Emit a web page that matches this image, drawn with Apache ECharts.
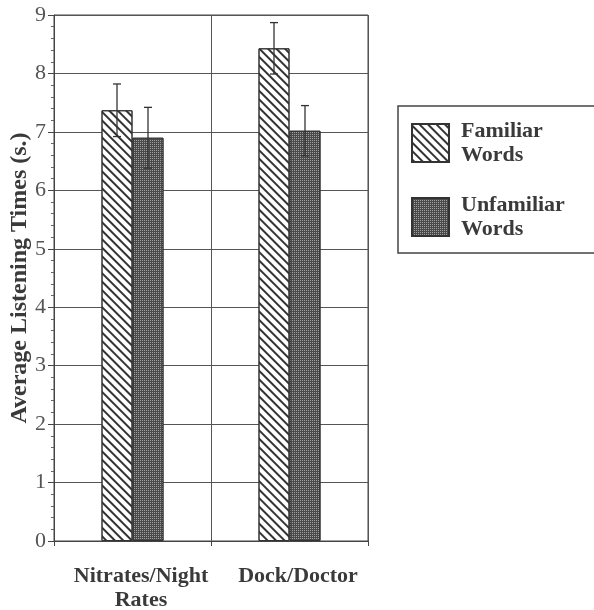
<!DOCTYPE html>
<html>
<head>
<meta charset="utf-8">
<script src="https://cdn.jsdelivr.net/npm/echarts@6/dist/echarts.min.js"></script>
<style>
html,body{margin:0;padding:0;background:#fff;}
#chart{width:594px;height:610px;}
</style>
</head>
<body>
<div id="chart"></div>
<script>
const categories = ['Nitrates/Night\nRates', 'Dock/Doctor'];
const seriesNames = ['Familiar\nWords', 'Unfamiliar\nWords'];
const familiarMeans = [7.37, 8.43];
const unfamiliarMeans = [6.90, 7.02];
const familiarErr = [0.45, 0.44];
const unfamiliarErr = [0.52, 0.43];
const yTicks = [0, 1, 2, 3, 4, 5, 6, 7, 8, 9];

const FONT = 'Liberation Serif';
const BAR_W = 31;

const chart = echarts.init(document.getElementById('chart'), null, {renderer: 'canvas'});

function errorSeries(means, errs, offset) {
  return {
    type: 'custom',
    silent: true,
    z: 5,
    data: means.map((m, i) => [i, m - errs[i], m + errs[i]]),
    renderItem: function (params, api) {
      const lo = api.coord([api.value(0), api.value(1)]);
      const hi = api.coord([api.value(0), api.value(2)]);
      const x = lo[0] + offset;
      const cap = 4;
      const style = {stroke: '#333', lineWidth: 1.3};
      return {
        type: 'group',
        children: [
          {type: 'line', shape: {x1: x, y1: lo[1], x2: x, y2: hi[1]}, style: style},
          {type: 'line', shape: {x1: x - cap, y1: hi[1], x2: x + cap, y2: hi[1]}, style: style},
          {type: 'line', shape: {x1: x - cap, y1: lo[1], x2: x + cap, y2: lo[1]}, style: style}
        ]
      };
    }
  };
}

const option = {
  backgroundColor: '#fff',
  animation: false,
  grid: {left: 54, right: 226, top: 15, bottom: 69, show: true, borderColor: '#444', borderWidth: 1,
    containLabel: false, outerBoundsMode: 'none'},
  legend: {
    orient: 'vertical',
    left: 411,
    top: 119,
    padding: 0,
    itemWidth: 37,
    itemHeight: 38,
    itemGap: 26,
    icon: 'rect',
    data: seriesNames,
    textStyle: {fontFamily: FONT, fontSize: 22, fontWeight: 'bold', color: '#3a3a3a', lineHeight: 24, padding: [0, 0, 0, 7]}
  },
  graphic: [{
    type: 'rect',
    shape: {x: 398, y: 106, width: 230, height: 147},
    style: {fill: 'none', stroke: '#444', lineWidth: 1.5},
    silent: true
  }],
  xAxis: {
    type: 'category',
    data: categories,
    boundaryGap: true,
    axisLine: {lineStyle: {color: '#444', width: 1}},
    axisTick: {show: true, interval: 0, length: 5, lineStyle: {color: '#444'}},
    splitLine: {show: true, interval: 0, lineStyle: {color: '#555', width: 1}},
    axisLabel: {interval: 0, fontFamily: FONT, fontSize: 22, fontWeight: 'bold', color: '#3a3a3a', lineHeight: 24, margin: 23, padding: [0, 0, 0, 17]}
  },
  yAxis: {
    type: 'value',
    min: 0,
    max: 9,
    interval: 1,
    name: 'Average Listening Times (s.)',
    nameLocation: 'middle',
    nameGap: 22,
    nameMoveOverlap: false,
    nameTextStyle: {fontFamily: FONT, fontSize: 24, fontWeight: 'bold', color: '#3a3a3a'},
    axisLine: {show: true, lineStyle: {color: '#444', width: 1}},
    axisTick: {show: true, length: 6, lineStyle: {color: '#444'}},
    minorTick: {show: true, splitNumber: 5, length: 3, lineStyle: {color: '#666'}},
    splitLine: {show: true, lineStyle: {color: '#555', width: 1}},
    axisLabel: {fontFamily: FONT, fontSize: 22, color: '#555', margin: 8,
      formatter: function (v) { return yTicks.indexOf(v) >= 0 ? String(v) : ''; }}
  },
  series: [
    {
      name: seriesNames[0],
      type: 'bar',
      data: familiarMeans,
      barWidth: BAR_W,
      barGap: '0%',
      itemStyle: {
        color: '#fff',
        borderColor: '#333',
        borderWidth: 1,
        decal: {symbol: 'rect', symbolSize: 1, color: '#333', dashArrayX: [1, 0], dashArrayY: [1.6, 3.8], rotation: Math.PI / 4}
      }
    },
    {
      name: seriesNames[1],
      type: 'bar',
      data: unfamiliarMeans,
      barWidth: BAR_W,
      barGap: '0%',
      itemStyle: {
        color: '#4a4a4a',
        borderColor: '#333',
        borderWidth: 1,
        decal: {symbol: 'rect', symbolSize: 1, color: '#a0a0a0', dashArrayX: [1, 1], dashArrayY: [1, 1], rotation: 0}
      }
    },
    errorSeries(familiarMeans, familiarErr, -BAR_W / 2),
    errorSeries(unfamiliarMeans, unfamiliarErr, BAR_W / 2)
  ]
};
chart.setOption(option);
</script>
</body>
</html>
